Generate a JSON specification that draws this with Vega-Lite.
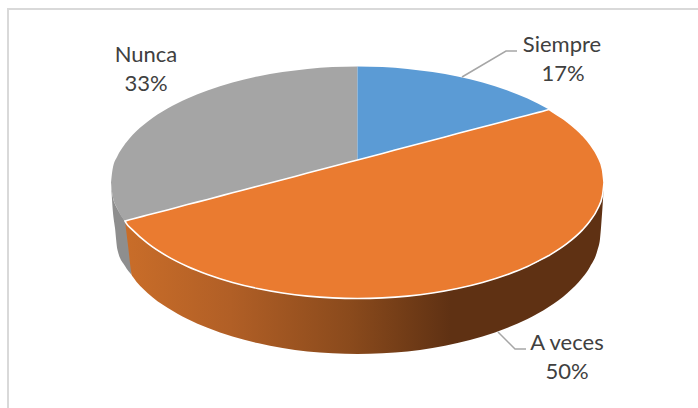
{
"$schema":"https://vega.github.io/schema/vega-lite/v6.json",
"width":698,"height":408,"padding":0,"autosize":{"type":"none"},
"background":"white",
"view":{"stroke":null},
"datasets":{
"frame":[{"x":8,"y":408,"o":0},{"x":8,"y":9,"o":1},{"x":698,"y":9,"o":2}],
"grayRim":[{"x":111,"y":182.5,"y2":182.5},{"x":112.5,"y":195.3,"y2":207},{"x":115,"y":204,"y2":228},{"x":117.5,"y":209,"y2":250},{"x":125,"y":221,"y2":266},{"x":131.7,"y":228,"y2":275}],
"rim":[{"x":125,"y":221,"y2":221},{"x":128.3,"y":225,"y2":248},{"x":131,"y":228,"y2":271},{"x":131.7,"y":229,"y2":275},{"x":133,"y":230.2,"y2":277},{"x":147.5,"y":243.2,"y2":292.9},{"x":167.5,"y":256.4,"y2":307.7},{"x":187.5,"y":266.5,"y2":318.9},{"x":207.5,"y":274.5,"y2":327.8},{"x":232.5,"y":282.5,"y2":336.5},{"x":257.5,"y":288.5,"y2":343},{"x":282.5,"y":293,"y2":348},{"x":307.5,"y":296.1,"y2":351.4},{"x":332.5,"y":297.9,"y2":353.3},{"x":357.5,"y":298.5,"y2":354},{"x":382.5,"y":297.9,"y2":353.3},{"x":407.5,"y":296.1,"y2":351.4},{"x":432.5,"y":293,"y2":348},{"x":457.5,"y":288.5,"y2":343},{"x":482.5,"y":282.5,"y2":336.5},{"x":507.5,"y":274.5,"y2":327.8},{"x":527.5,"y":266.5,"y2":318.9},{"x":549,"y":255.5,"y2":306.7},{"x":567.5,"y":243.2,"y2":292.9},{"x":582.5,"y":229.9,"y2":277.5},{"x":590,"y":221,"y2":266.7},{"x":597.5,"y":209,"y2":250},{"x":600,"y":203,"y2":239},{"x":602.5,"y":195.3,"y2":207},{"x":604,"y":182.5,"y2":182.5}],
"nunca":[{"x":111,"y":182.5,"y2":182.5},{"x":112.5,"y":169.7,"y2":195.3},{"x":117.5,"y":156,"y2":209},{"x":124,"y":145.4,"y2":220},{"x":125,"y":144,"y2":221},{"x":126,"y":142.8,"y2":220.7},{"x":132.5,"y":135.1,"y2":219},{"x":147.5,"y":121.8,"y2":215.1},{"x":167.5,"y":108.6,"y2":209.9},{"x":187.5,"y":98.5,"y2":204.6},{"x":207.5,"y":90.5,"y2":199.4},{"x":232.5,"y":82.5,"y2":192.8},{"x":257.5,"y":76.5,"y2":186.2},{"x":282.5,"y":72,"y2":179.7},{"x":307.5,"y":68.9,"y2":173.1},{"x":332.5,"y":67.1,"y2":166.6},{"x":357.5,"y":66.5,"y2":160}],
"siempre":[{"x":357.5,"y":66.5,"y2":160},{"x":382.5,"y":67.1,"y2":153.4},{"x":407.5,"y":68.9,"y2":146.8},{"x":432.5,"y":72,"y2":140.2},{"x":457.5,"y":76.5,"y2":133.6},{"x":482.5,"y":82.5,"y2":127},{"x":507.5,"y":90.5,"y2":120.4},{"x":527.5,"y":98.5,"y2":115.2},{"x":549,"y":109.5,"y2":109.5}],
"aveces":[{"x":125,"y":221,"y2":221},{"x":126,"y":220.7,"y2":222.8},{"x":132.5,"y":219,"y2":229.9},{"x":147.5,"y":215.1,"y2":243.2},{"x":167.5,"y":209.9,"y2":256.4},{"x":187.5,"y":204.6,"y2":266.5},{"x":207.5,"y":199.4,"y2":274.5},{"x":232.5,"y":192.8,"y2":282.5},{"x":257.5,"y":186.2,"y2":288.5},{"x":282.5,"y":179.7,"y2":293},{"x":307.5,"y":173.1,"y2":296.1},{"x":332.5,"y":166.6,"y2":297.9},{"x":357.5,"y":160,"y2":298.5},{"x":382.5,"y":153.4,"y2":297.9},{"x":407.5,"y":146.8,"y2":296.1},{"x":432.5,"y":140.2,"y2":293},{"x":457.5,"y":133.6,"y2":288.5},{"x":482.5,"y":127,"y2":282.5},{"x":507.5,"y":120.4,"y2":274.5},{"x":527.5,"y":115.2,"y2":266.5},{"x":548,"y":109.8,"y2":256},{"x":549,"y":109.5,"y2":255.5},{"x":550,"y":110.2,"y2":254.9},{"x":567.5,"y":121.8,"y2":243.2},{"x":582.5,"y":135.1,"y2":229.9},{"x":590,"y":144,"y2":221},{"x":597.5,"y":156,"y2":209},{"x":602.5,"y":169.7,"y2":195.3},{"x":604,"y":182.5,"y2":182.5}],
"leaders":[{"k":"Siempre","x":462,"y":77,"o":0},{"k":"Siempre","x":506,"y":51,"o":1},{"k":"Siempre","x":517,"y":51,"o":2},{"k":"A veces","x":498,"y":332,"o":0},{"k":"A veces","x":515,"y":349,"o":1},{"k":"A veces","x":526,"y":349,"o":2}],
"labels":[{"x":146,"y":62,"t":"Nunca"},{"x":146,"y":91,"t":"33%"},{"x":562,"y":52,"t":"Siempre"},{"x":563,"y":81,"t":"17%"},{"x":567,"y":350,"t":"A veces"},{"x":567,"y":379,"t":"50%"}]
},
"encoding":{
"x":{"field":"x","type":"quantitative","scale":{"domain":[0,698],"nice":false,"zero":false},"axis":null},
"y":{"field":"y","type":"quantitative","scale":{"domain":[408,0],"nice":false,"zero":false},"axis":null}
},
"layer":[
{"data":{"name":"frame"},"mark":{"type":"line","color":"#d9d9d9","strokeWidth":2,"clip":false},"encoding":{"order":{"field":"o"}}},
{"data":{"name":"grayRim"},"mark":{"type":"area","orient":"vertical","color":"#8e8e8e","interpolate":"monotone"},"encoding":{"y2":{"field":"y2"}}},
{"data":{"name":"rim"},"mark":{"type":"area","orient":"vertical","interpolate":"monotone","color":{"gradient":"linear","x1":0,"x2":1,"y1":0,"y2":0,"stops":[{"offset":0,"color":"#c96d29"},{"offset":0.22,"color":"#b15f26"},{"offset":0.47,"color":"#8a4a1c"},{"offset":0.68,"color":"#5f3113"},{"offset":1,"color":"#5f3113"}]}},"encoding":{"y2":{"field":"y2"}}},
{"data":{"name":"nunca"},"mark":{"type":"area","orient":"vertical","color":"#a5a5a5","interpolate":"monotone"},"encoding":{"y2":{"field":"y2"}}},
{"data":{"name":"siempre"},"mark":{"type":"area","orient":"vertical","color":"#5b9bd5","interpolate":"monotone"},"encoding":{"y2":{"field":"y2"}}},
{"data":{"name":"aveces"},"mark":{"type":"area","orient":"vertical","color":"#ea7b30","stroke":"#ffffff","strokeWidth":1.6,"interpolate":"monotone"},"encoding":{"y2":{"field":"y2"}}},
{"data":{"name":"leaders"},"mark":{"type":"line","color":"#a6a6a6","strokeWidth":1.5},"encoding":{"detail":{"field":"k"},"order":{"field":"o"}}},
{"data":{"name":"labels"},"mark":{"type":"text","font":"Lato","fontSize":22,"color":"#404040","align":"center","baseline":"alphabetic"},"encoding":{"text":{"field":"t"}}}
]
}
